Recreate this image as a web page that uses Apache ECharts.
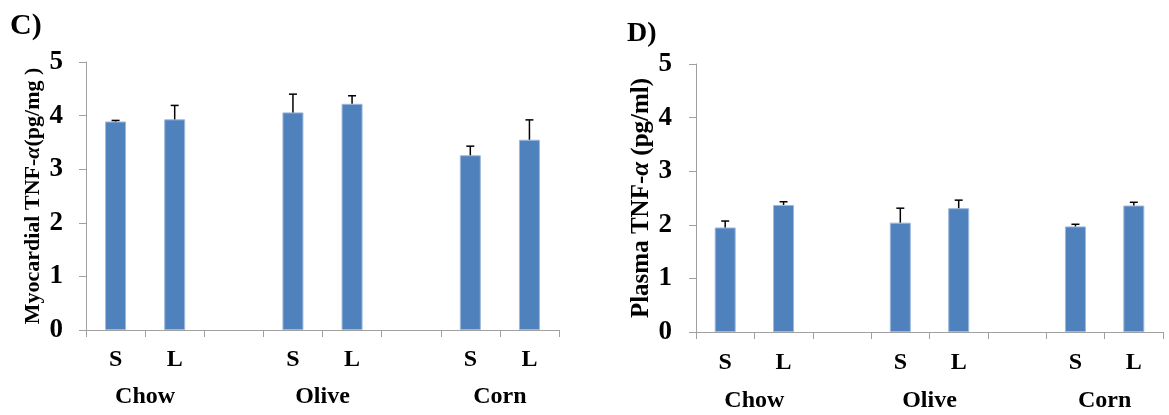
<!DOCTYPE html>
<html>
<head>
<meta charset="utf-8">
<script src="https://cdn.jsdelivr.net/npm/echarts@6/dist/echarts.min.js"></script>
<style>
  html, body { margin: 0; padding: 0; background: #fff; }
  #chart { width: 1169px; height: 415px; }
</style>
</head>
<body>
<div id="chart"></div>
<script>
// categories (empty slots are the gaps between diet groups)
var categories = ['S', 'L', '', 'S', 'L', '', 'S', 'L'];
var groupNames = ['Chow', 'Olive', 'Corn'];

// C) myocardial TNF-a, pg/mg
var myoMean = [3.89, 3.93, null, 4.06, 4.22, null, 3.26, 3.55];
var myoErr = [0.02, 0.26, null, 0.34, 0.15, null, 0.17, 0.37];

// D) plasma TNF-a, pg/ml
var plasmaMean = [1.95, 2.37, null, 2.04, 2.31, null, 1.97, 2.36];
var plasmaErr = [0.12, 0.06, null, 0.27, 0.15, null, 0.04, 0.06];

var FONT = 'Liberation Serif';
var AXIS_GREY = '#a0a0a0';
var BAR_BLUE = '#4f81bd';

function errData(mean, err) {
    var out = [];
    for (var i = 0; i < mean.length; i++) {
        if (mean[i] == null) continue;
        out.push([i, mean[i], err[i]]);
    }
    return out;
}

// vertical whisker + cap, upper side only
function renderErr(params, api) {
    var i = api.value(0);
    var m = api.value(1);
    var e = api.value(2);
    var p0 = api.coord([i, m]);
    var p1 = api.coord([i, m + e]);
    var st = { stroke: '#000', lineWidth: 1.5 };
    return {
        type: 'group',
        children: [
            { type: 'line', shape: { x1: p0[0], y1: p0[1], x2: p1[0], y2: p1[1] }, style: st },
            { type: 'line', shape: { x1: p1[0] - 4, y1: p1[1], x2: p1[0] + 4, y2: p1[1] }, style: st }
        ]
    };
}

function catAxis(gridIndex, margin) {
    return {
        type: 'category',
        gridIndex: gridIndex,
        data: categories,
        axisLine: { lineStyle: { color: AXIS_GREY, width: 1 } },
        axisTick: { show: true, length: 7, alignWithLabel: false, lineStyle: { color: AXIS_GREY } },
        axisLabel: { margin: margin, color: '#000', fontFamily: FONT, fontWeight: 'bold', fontSize: 24, interval: 0 },
        splitLine: { show: false }
    };
}

// second axis only to put the diet names under each S/L pair
function groupAxis(gridIndex, margin) {
    return {
        type: 'value',
        gridIndex: gridIndex,
        position: 'bottom',
        min: 0,
        max: categories.length,
        interval: 1,
        axisLine: { show: false },
        axisTick: { show: false },
        splitLine: { show: false },
        axisLabel: {
            margin: margin,
            color: '#000', fontFamily: FONT, fontWeight: 'bold', fontSize: 24,
            showMinLabel: true, showMaxLabel: true,
            formatter: function (v) {
                var g = (v - 1) / 3;
                return (g === Math.round(g) && groupNames[g]) ? groupNames[g] : '';
            }
        }
    };
}

function valAxis(gridIndex, name, nameSize, nameGap, labelMargin) {
    return {
        type: 'value',
        gridIndex: gridIndex,
        min: 0,
        max: 5,
        interval: 1,
        name: name,
        nameLocation: 'middle',
        nameGap: nameGap,
        nameRotate: 90,
        nameTextStyle: {
            rich: {
                n: { fontFamily: FONT, fontWeight: 'bold', fontSize: nameSize, color: '#000' },
                i: { fontFamily: FONT, fontWeight: 'bold', fontStyle: 'italic', fontSize: nameSize, color: '#000' }
            }
        },
        axisLine: { show: true, lineStyle: { color: AXIS_GREY, width: 1 } },
        axisTick: { show: true, length: 7, lineStyle: { color: AXIS_GREY } },
        axisLabel: { margin: labelMargin, color: '#000', fontFamily: FONT, fontWeight: 'bold', fontSize: 27 },
        splitLine: { show: false }
    };
}

function barSeries(axisIdx, data) {
    return {
        type: 'bar',
        xAxisIndex: axisIdx,
        yAxisIndex: axisIdx,
        data: data,
        barWidth: 21,
        itemStyle: { color: BAR_BLUE, borderColor: '#9db8dc', borderWidth: 1 },
        silent: true
    };
}

var chart = echarts.init(document.getElementById('chart'));
chart.setOption({
    backgroundColor: '#fff',
    animation: false,
    title: [
        { text: 'C)', left: 5, top: 6, textStyle: { fontFamily: FONT, fontWeight: 'bold', fontSize: 30, color: '#000' } },
        { text: 'D)', left: 622, top: 15, textStyle: { fontFamily: FONT, fontWeight: 'bold', fontSize: 28, color: '#000' } }
    ],
    grid: [
        { left: 86, top: 62, width: 473, height: 268 },
        { left: 696, top: 64, width: 467, height: 268 }
    ],
    xAxis: [
        catAxis(0, 18),
        catAxis(1, 19),
        groupAxis(0, 55),
        groupAxis(1, 57)
    ],
    yAxis: [
        valAxis(0, '{n|Myocardial TNF-}{i|α}{n|(pg/mg )}', 22, 42, 23),
        valAxis(1, '{n|Plasma TNF-}{i|α}{n| (pg/ml)}', 25, 42, 24)
    ],
    series: [
        barSeries(0, myoMean),
        barSeries(1, plasmaMean),
        { type: 'custom', xAxisIndex: 0, yAxisIndex: 0, data: errData(myoMean, myoErr), renderItem: renderErr, z: 5 },
        { type: 'custom', xAxisIndex: 1, yAxisIndex: 1, data: errData(plasmaMean, plasmaErr), renderItem: renderErr, z: 5 }
    ]
});
</script>
</body>
</html>
